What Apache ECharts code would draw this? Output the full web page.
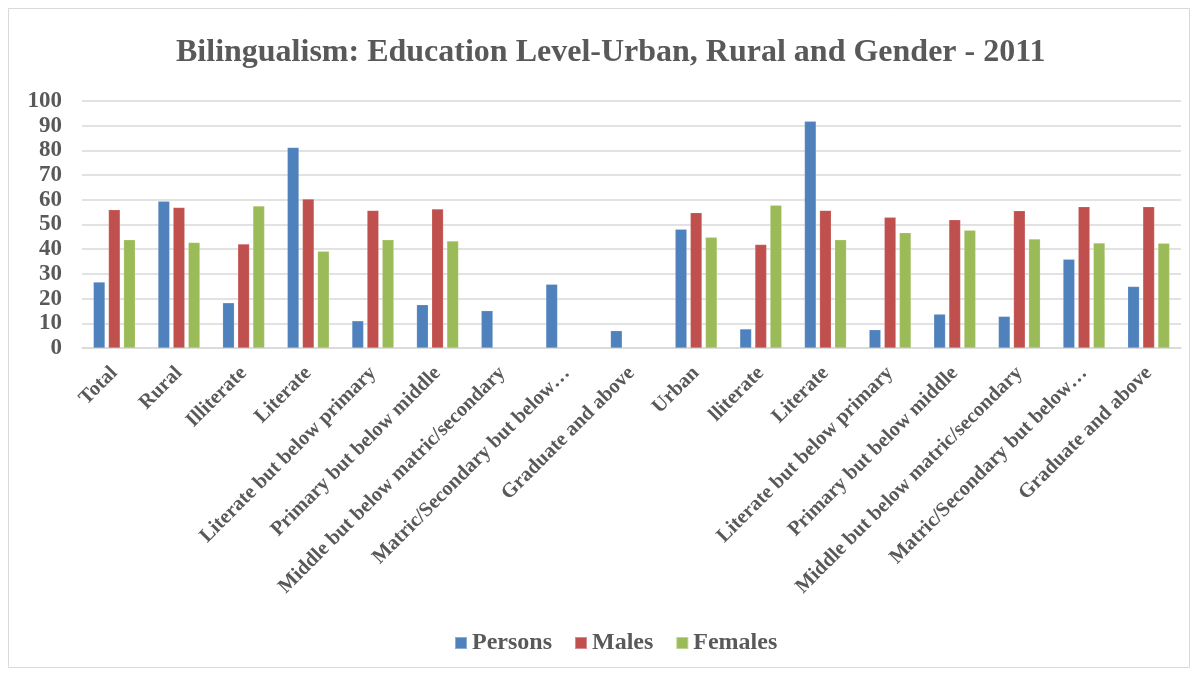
<!DOCTYPE html>
<html>
<head>
<meta charset="utf-8">
<script src="https://cdn.jsdelivr.net/npm/echarts@6/dist/echarts.min.js"></script>
<style>
html,body{margin:0;padding:0;background:#fff;}
#chart{width:1198px;height:675px;}
</style>
</head>
<body>
<div id="chart"></div>
<script>
var categories = ["Total","Rural","Illiterate","Literate","Literate but below primary","Primary but below middle","Middle but below matric/secondary","Matric/Secondary but below…","Graduate and above","Urban","lliterate","Literate","Literate but below primary","Primary but below middle","Middle but below matric/secondary","Matric/Secondary but below…","Graduate and above"];
var persons = [26.7, 59.4, 18.3, 81.2, 11.0, 17.5, 15.1, 25.8, 7.0, 48.1, 7.7, 91.8, 7.4, 13.7, 12.8, 35.9, 24.9];
var males   = [56.0, 56.9, 42.1, 60.3, 55.7, 56.3, null, null, null, 54.8, 41.9, 55.7, 52.9, 51.9, 55.6, 57.2, 57.2];
var females = [43.8, 42.7, 57.5, 39.2, 43.8, 43.3, null, null, null, 44.8, 57.8, 43.8, 46.7, 47.7, 44.1, 42.5, 42.4];
var yTicks = [0,10,20,30,40,50,60,70,80,90,100];

var font = '"Liberation Serif","Times New Roman",serif';
var grey = '#595959';
var chart = echarts.init(document.getElementById('chart'));
function mk(name, data, color){
  return {name:name, type:'bar', data:data, barWidth:'18%', barGap:'30%', barCategoryGap:'34%',
    itemStyle:{color:color, borderColor:'rgba(255,255,255,0.35)', borderWidth:0.5}};
}
chart.setOption({
  backgroundColor:'#fff',
  animation:false,
  graphic:[{type:'rect', shape:{x:8.5,y:8.5,width:1181,height:659}, style:{fill:'none', stroke:'#d9d9d9', lineWidth:1}, z:-1}],
  title:{text:'Bilingualism: Education Level-Urban, Rural and Gender - 2011', left:171, top:32,
    textStyle:{fontFamily:font, fontWeight:'bold', fontSize:32, color:grey}},
  legend:{bottom:15, left:449, itemWidth:12, itemHeight:12, itemGap:22, icon:'rect',
    textStyle:{fontFamily:font, fontWeight:'bold', fontSize:24, color:grey}},
  grid:{left:82, right:17, top:101, bottom:327, containLabel:false},
  xAxis:{type:'category', data:categories,
    axisLine:{lineStyle:{color:'#d9d9d9', width:1.5}}, axisTick:{show:false},
    axisLabel:{interval:0, rotate:45, fontFamily:font, fontWeight:'bold', fontSize:20.5, color:grey, margin:22}},
  yAxis:{type:'value', min:0, max:100, interval:10,
    axisLine:{show:false}, axisTick:{show:false},
    splitLine:{lineStyle:{color:'#d9d9d9', width:1.5}},
    axisLabel:{fontFamily:font, fontWeight:'bold', fontSize:23, color:grey, margin:20,
      formatter:function(v){return yTicks.indexOf(v)>=0 ? String(v) : '';}}},
  series:[mk('Persons', persons, '#4f81bd'), mk('Males', males, '#c0504d'), mk('Females', females, '#9bbb59')]
});
</script>
</body>
</html>
